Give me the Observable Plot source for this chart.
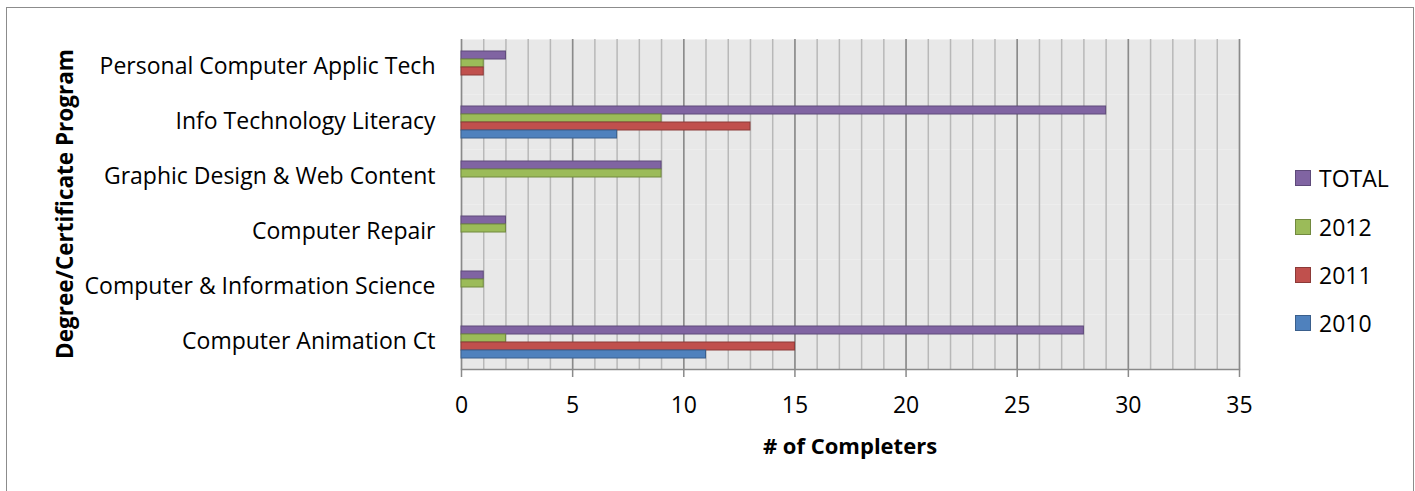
<!DOCTYPE html>
<html><head><meta charset="utf-8">
<script src="https://cdn.jsdelivr.net/npm/d3@7"></script>
<script src="https://cdn.jsdelivr.net/npm/@observablehq/plot@0.6"></script>
<style>
body{margin:0;background:#fff;font-family:"Open Sans",sans-serif;}
#wrap{position:relative;width:1415px;height:491px;overflow:hidden;background:#fff;}
#border{position:absolute;left:6px;top:7px;width:1408px;height:520px;border:1.5px solid #8c8c8c;box-sizing:border-box;}
#chart{position:absolute;left:0;top:0;}
.ytitle{position:absolute;font-weight:bold;font-size:22.5px;left:64px;top:204px;transform:translate(-50%,-50%) rotate(-90deg);white-space:nowrap;}
.xtitle{position:absolute;font-weight:bold;font-size:22px;left:850px;top:445px;transform:translate(-50%,-50%);white-space:nowrap;}
.lg{position:absolute;left:1295px;height:0;display:flex;align-items:center;font-size:23px;white-space:nowrap;}
.lg span.sw{display:inline-block;width:14px;height:14px;border:1.5px solid;margin-right:8px;}
</style></head>
<body>
<div id="wrap">
  <div id="border"></div>
  <div id="chart"></div>
  <div class="ytitle">Degree/Certificate Program</div>
  <div class="xtitle"># of Completers</div>
  <div id="legend"></div>
</div>
<script>
const categories = ["Personal Computer Applic Tech","Info Technology Literacy","Graphic Design & Web Content","Computer Repair","Computer & Information Science","Computer Animation Ct"];
const series = ["TOTAL","2012","2011","2010"];
const vTotal = [2,29,9,2,1,28];
const v2012 = [1,9,9,2,1,2];
const v2011 = [1,13,0,0,0,15];
const v2010 = [0,7,0,0,0,11];
const xTicks = [0,5,10,15,20,25,30,35];
const minorTicks = d3.range(0,36);
const fills = {"TOTAL":"#8064A2","2012":"#9BBB59","2011":"#C0504D","2010":"#4F81BD"};
const strokes = {"TOTAL":"#5E4A7A","2012":"#71893F","2011":"#8C3A38","2010":"#3A5F8C"};
const values = {"TOTAL":vTotal,"2012":v2012,"2011":v2011,"2010":v2010};

const rows = [];
for (const s of series) categories.forEach((c,i)=>rows.push({category:c, series:s, value:values[s][i]}));

const barMarks = series.map(s => Plot.barX(rows.filter(d=>d.series===s && d.value>0), {
  x:"value", y:"series", fy:"category", fill:fills[s], stroke:strokes[s], strokeWidth:1
}));

const chart = Plot.plot({
  width:1415, height:491,
  marginLeft:461, marginRight:176, marginTop:37, marginBottom:121,
  style:{fontFamily:"Open Sans", fontSize:"23px", color:"#000", background:"transparent"},
  x:{domain:[0,35]},
  y:{domain:series, paddingInner:0, paddingOuter:1.22, axis:null},
  fy:{domain:categories, padding:0, axis:null, label:null},
  marks:[
    Plot.frame({fill:"#e8e8e8", stroke:null}),
    Plot.ruleX(minorTicks, {stroke:"#b8b8b8", strokeWidth:1.5}),
    Plot.ruleX(xTicks, {stroke:"#8a8a8a", strokeWidth:1.5}),
    Plot.frame({anchor:"bottom", stroke:"#8a8a8a", strokeWidth:1.5, facetAnchor:"bottom"}),
    ...barMarks,
    Plot.axisFy({anchor:"left", tickSize:0, tickPadding:26, label:null}),
    Plot.axisX({anchor:"bottom", ticks:xTicks, tickSize:8, tickPadding:19, stroke:"#8a8a8a", strokeWidth:1.5, fill:"#000", label:null})
  ]
});
document.getElementById("chart").appendChild(chart);

const legendTops = [178, 226.5, 275, 323];
const lg = document.getElementById("legend");
series.forEach((s,i)=>{
  const d = document.createElement("div");
  d.className = "lg";
  d.style.top = legendTops[i] + "px";
  d.innerHTML = `<span class="sw" style="background:${fills[s]};border-color:${strokes[s]}"></span><span>${s}</span>`;
  lg.appendChild(d);
});
</script>
</body></html>
